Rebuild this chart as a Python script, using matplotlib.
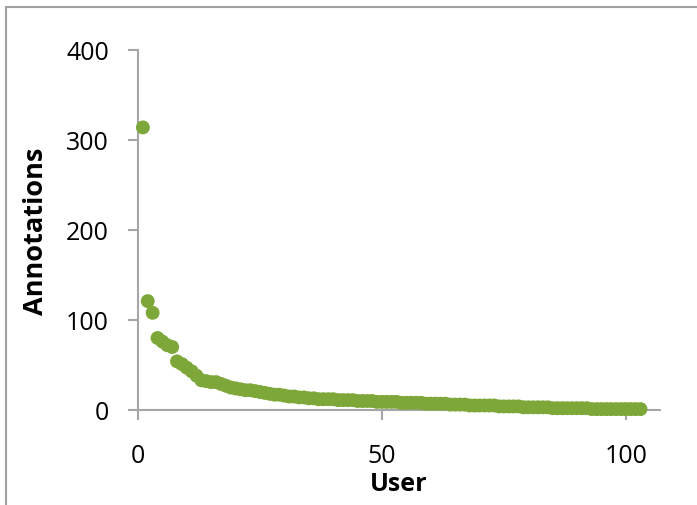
import matplotlib
matplotlib.use("Agg")
import matplotlib.pyplot as plt
from matplotlib.patches import Rectangle

users = list(range(1, 104))
annotations = [314, 121, 108, 80, 76, 72, 70, 54, 51, 47,
               43, 38, 33, 32, 31, 31, 29, 27, 25, 24,
               23, 22, 22, 21, 20, 19, 18, 17, 17, 16,
               15, 15, 14, 14, 13, 13, 12, 12, 12, 12,
               11, 11, 11, 11, 10, 10, 10, 10, 9, 9,
               9, 9, 9, 8, 8, 8, 8, 8, 7, 7,
               7, 7, 7, 6, 6, 6, 6, 5, 5, 5,
               5, 5, 5, 4, 4, 4, 4, 4, 3, 3,
               3, 3, 3, 3, 2, 2, 2, 2, 2, 2,
               2, 2, 1, 1, 1, 1, 1, 1, 1, 1,
               1, 1, 1]
x_ticks = [0, 50, 100]
y_ticks = [0, 100, 200, 300, 400]
x_label = "User"
y_label = "Annotations"

plt.rcParams['font.family'] = ['Open Sans', 'DejaVu Sans']

W, H = 697, 506
fig = plt.figure(figsize=(W / 100, H / 100), dpi=100)
fig.patches.append(Rectangle((6 / W, -0.1), 1.2, (1 - 8 / H) + 0.1,
                             transform=fig.transFigure, fill=False,
                             edgecolor='#a0a0a0', linewidth=1.5))

ax = fig.add_axes([138 / W, 1 - 411 / H, (660 - 138) / W, (411 - 51) / H])
ax.scatter(users, annotations, s=100, color='#7da839', edgecolors='none',
           zorder=3, clip_on=False)
ax.set_xlim(0, 107)
ax.set_ylim(0, 400)
ax.set_xticks(x_ticks)
ax.set_yticks(y_ticks)
for s in ['top', 'right']:
    ax.spines[s].set_visible(False)
for s in ['left', 'bottom']:
    ax.spines[s].set_color('#a6a6a6')
    ax.spines[s].set_linewidth(1.5)
ax.tick_params(axis='both', direction='out', length=7, width=1.5,
               color='#a6a6a6', labelsize=18, labelcolor='black')
ax.tick_params(axis='y', pad=14)
ax.tick_params(axis='x', pad=17)
ax.set_xlabel(x_label, fontsize=18, fontweight='bold', labelpad=2)
ax.set_ylabel(y_label, fontsize=19.5, fontweight='bold', labelpad=12)

fig.savefig("out.png", dpi=100)
